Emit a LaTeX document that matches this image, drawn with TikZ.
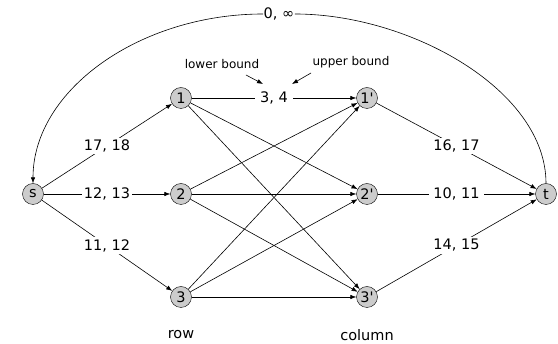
\documentclass[tikz,border=0pt]{standalone}
\usepackage{fontspec}
\setmainfont{DejaVu Sans}
\usetikzlibrary{arrows.meta}
\begin{document}
\begin{tikzpicture}[x=1pt,y=-1pt,
  vert/.style={circle,draw,fill=black!20,minimum size=21pt,inner sep=0pt,font=\fontsize{14.5}{16}\selectfont},
  arr/.style={-{Latex[length=6pt,width=4.5pt]},line width=0.6pt},
  lab/.style={fill=white,inner sep=2pt,font=\fontsize{14.5}{16}\selectfont},
  note/.style={font=\fontsize{12}{14}\selectfont},
  captxt/.style={font=\fontsize{14.5}{16}\selectfont}]
\useasboundingbox (0,0) rectangle (558,344);
\node[vert] (s) at (33,194) {s};
\node[vert] (a1) at (181,98) {1};
\node[vert] (a2) at (181,194) {2};
\node[vert] (a3) at (181,297) {3};
\node[vert] (b1) at (367,98) {1\textquotesingle};
\node[vert] (b2) at (367,194) {2\textquotesingle};
\node[vert] (b3) at (367,297) {3\textquotesingle};
\node[vert] (t) at (546,194) {t};
% source edges
\draw[arr] (s) -- node[lab]{17, 18} (a1);
\draw[arr] (s) -- node[lab]{12, 13} (a2);
\draw[arr] (s) -- node[lab]{11, 12} (a3);
% middle edges
\draw[arr] (a1) -- node[lab,inner sep=5pt] (mid) {3, 4} (b1);
\draw[arr] (a1) -- (b2);
\draw[arr] (a1) -- (b3);
\draw[arr] (a2) -- (b1);
\draw[arr] (a2) -- (b2);
\draw[arr] (a2) -- (b3);
\draw[arr] (a3) -- (b1);
\draw[arr] (a3) -- (b2);
\draw[arr] (a3) -- (b3);
% sink edges
\draw[arr] (b1) -- node[lab]{16, 17} (t);
\draw[arr] (b2) -- node[lab,inner sep=4pt]{10, 11} (t);
\draw[arr] (b3) -- node[lab]{14, 15} (t);
% return edge
\node[lab,inner sep=0.5pt] (inf) at (279,14) {0, ∞};
\draw[line width=0.6pt] (t.north) .. controls (546,90) and (410,14) .. (inf.east);
\draw[arr] (inf.west) .. controls (140,14) and (33,90) .. (s.north);
% annotations
\node[note] (lb) at (222,64) {lower bound};
\node[note] (ub) at (351,62) {upper bound};
\coordinate (lbs) at (246,75);
\coordinate (lbe) at (263,84);
\coordinate (ubs) at (311,73);
\coordinate (ube) at (292,84);
\draw[arr] (lbs) -- (lbe);
\draw[arr] (ubs) -- (ube);
\node[captxt] (row) at (181,335) {row};
\node[captxt] (col) at (367,335) {column};
\end{tikzpicture}
\end{document}
